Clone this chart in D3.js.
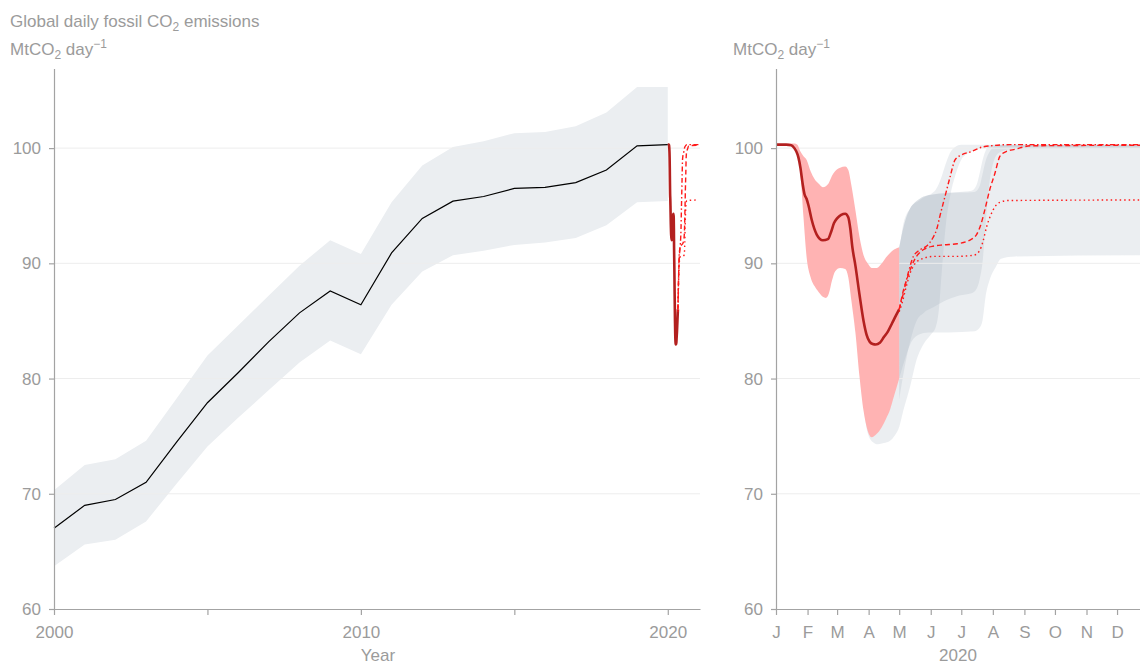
<!DOCTYPE html>
<html>
<head>
<meta charset="utf-8">
<script src="https://cdn.jsdelivr.net/npm/d3@7"></script>
<style>
  html, body { margin: 0; padding: 0; background: #fff; }
  svg { display: block; font-family: "Liberation Sans", Arial, Helvetica, sans-serif; }
</style>
</head>
<body>
<svg id="chart" width="1140" height="664"></svg>
<script>
// ---- Annual emissions 2000-2020 (MtCO2 per day) ----
const years       = [2000, 2001, 2002, 2003, 2004, 2005, 2006, 2007, 2008, 2009, 2010,
                     2011, 2012, 2013, 2014, 2015, 2016, 2017, 2018, 2019, 2020];
const annualMean  = [67.0, 69.0, 69.5, 71.0, 74.5, 77.9, 80.5, 83.2, 85.7, 87.6, 86.4,
                     90.9, 93.9, 95.4, 95.8, 96.5, 96.6, 97.0, 98.1, 100.2, 100.3];
const annualHigh  = [70.3, 72.5, 73.0, 74.6, 78.3, 82.0, 84.6, 87.2, 89.8, 92.0, 90.8,
                     95.3, 98.5, 100.1, 100.6, 101.3, 101.4, 101.9, 103.1, 105.3, 105.3];
const annualLow   = [63.7, 65.6, 66.0, 67.6, 70.9, 74.1, 76.6, 79.0, 81.4, 83.3, 82.1,
                     86.4, 89.3, 90.7, 91.1, 91.6, 91.8, 92.2, 93.3, 95.3, 95.4];

// ---- Daily emissions 2020: [day of year, value] ----
const observed = [[0,100.3],[10,100.3],[15,100.25],[18,100.0],[20,99.7],[22,99.2],[24,98.3],
  [26,97.0],[28,96.0],[30,95.6],[32,95.0],[35,93.8],[40,92.5],[46,92.0],[51,92.1],[54,92.7],
  [57,93.5],[60,93.9],[64,94.2],[68,94.3],[71,94.0],[73,93.0],[75,91.4],[78,89.8],[82,87.3],
  [86,85.0],[89,83.8],[92,83.2],[95,83.0],[98,82.95],[102,83.1],[106,83.6],[110,84.1],
  [114,84.8],[118,85.5],[121,86.0]];

// Uncertainty of the observed daily values: [day, low, high]
const observedRange = [[8,100.3,100.3],[15,100.3,100.4],[18,100.2,100.4],[21,99.7,100.3],
  [24,97.8,99.7],[27,94.0,99.3],[30,90.6,99.0],[34,88.8,98.0],[38,88.0,97.3],[42,87.5,96.9],
  [46,87.1,96.6],[49,87.0,96.7],[52,87.4,97.0],[55,88.5,97.6],[58,89.3,98.0],[63,89.6,98.3],
  [68,89.5,98.4],[71,88.8,98.1],[74,86.8,96.8],[78,84.0,94.6],[82,80.2,92.3],[86,77.2,90.7],
  [90,75.5,90.0],[94,74.9,89.6],[99,75.2,89.6],[104,75.8,90.0],[108,76.5,90.5],
  [112,77.3,90.9],[116,78.5,91.2],[121,80.0,91.4]];

// Recovery scenarios: [day, value]
const scenarioFast = [[121,86.0],[124,87.0],[130,89.2],[135,90.6],[142,91.2],[148,91.5],
  [154,92.2],[158,93.0],[161,94.1],[166,95.8],[171,97.5],[176,99.0],[182,99.4],[192,99.7],
  [203,100.1],[230,100.3],[366,100.3]];
const scenarioMid = [[121,86.0],[125,87.6],[130,89.0],[136,90.3],[145,91.2],[155,91.5],
  [165,91.6],[178,91.7],[190,92.0],[197,92.5],[201,93.3],[205,94.6],[210,96.4],[215,97.8],
  [220,99.3],[226,99.7],[235,99.9],[250,100.2],[366,100.25]];
const scenarioSlow = [[121,85.8],[124,86.6],[128,88.0],[132,89.2],[136,89.9],[141,90.3],
  [155,90.6],[175,90.6],[194,90.7],[200,91.1],[203,91.8],[207,93.2],[211,94.2],[215,94.9],
  [220,95.3],[228,95.45],[366,95.5]];

// Scenario uncertainty ranges: [day, low, high]
const rangeFast = [[86,77.6,90.0],[90,75.3,89.6],[95,74.5,89.4],[100,74.3,89.4],[106,74.4,89.8],
  [112,74.6,90.4],[117,75.1,90.9],[121,75.8,91.4],[125,77.2,93.4],[132,79.4,94.8],
  [138,81.6,95.4],[145,83.0,95.8],[152,83.8,96.0],[157,84.5,96.4],[160,86.0,96.9],
  [163,89.5,97.6],[167,93.5,98.7],[171,95.8,99.6],[176,97.6,100.1],[182,99.0,100.3],
  [190,99.6,100.3],[205,100.0,100.3],[366,100.0,100.3]];
const rangeMid = [[121,78.2,91.4],[126,80.8,93.4],[132,83.3,94.8],[138,85.0,95.4],
  [145,85.7,95.8],[155,86.2,96.0],[165,86.7,96.1],[180,87.2,96.2],[192,87.4,96.3],
  [197,87.8,96.8],[200,88.6,97.8],[203,90.2,99.0],[206,93.5,99.8],[209,96.5,100.2],
  [213,98.6,100.3],[219,99.6,100.3],[230,99.9,100.3],[366,100.0,100.3]];
const rangeSlow = [[121,80.0,91.4],[126,81.5,93.4],[132,83.0,94.8],[140,83.8,95.4],
  [150,84.0,95.9],[170,84.0,96.1],[195,84.1,96.2],[200,84.4,96.7],[203,85.1,97.8],
  [206,87.2,98.9],[210,88.6,99.7],[216,89.7,100.2],[221,90.4,100.3],[235,90.6,100.3],
  [366,90.7,100.3]];

const yTicks = [60, 70, 80, 90, 100];
const yearTicks = [2000, 2005, 2010, 2015, 2020];
const yearTickLabels = ["2000", "", "2010", "", "2020"];

// ---- Styling ----
const FONT_SIZE = 17;
const GREY_TEXT = "#9b9b9b";
const AXIS = "#a3a3a3";
const GRID = "#ededed";
const BAND = "#ebeef1";
const PINK = "#ffb3b3";
const DARK_RED = "#b3201f";
const RED = "#ff1a1a";

const svg = d3.select("#chart");

// ---- Scales ----
const yScale = d3.scaleLinear().domain([60, 106.9]).range([609, 68.6]);
const xYear = d3.scaleLinear().domain([2000, 2021.05]).range([54, 700]);
const t0 = new Date(2020, 0, 1), t1 = new Date(2021, 0, 1);
const xDate = d3.scaleTime().domain([t0, t1]).range([776, 1148.6]);
const dayToDate = d => new Date(2020, 0, 1 + d);
const dayToYear = d => 2020 + d / 366;

function grid(g, x0, x1) {
  g.selectAll("line").data(yTicks.slice(1)).join("line")
    .attr("x1", x0).attr("x2", x1)
    .attr("y1", d => yScale(d)).attr("y2", d => yScale(d))
    .attr("stroke", GRID).attr("stroke-width", 1);
}

function styleAxis(g) {
  g.selectAll("path.domain").attr("stroke", AXIS).attr("stroke-width", 1.2);
  g.selectAll(".tick line").attr("stroke", AXIS).attr("stroke-width", 1.2);
  g.selectAll(".tick text").attr("fill", GREY_TEXT)
    .attr("font-size", FONT_SIZE).attr("font-family", "'Liberation Sans', Arial, sans-serif");
}

function unitLabel(x, y) {
  const t = svg.append("text").attr("x", x).attr("y", y)
    .attr("fill", GREY_TEXT).attr("font-size", FONT_SIZE);
  t.append("tspan").text("MtCO");
  t.append("tspan").attr("font-size", 12).attr("dy", 4).text("2");
  t.append("tspan").attr("dy", -4).text(" day");
  t.append("tspan").attr("font-size", 12).attr("dy", -7).text("\u22121");
}

// ---- Title & units ----
const title = svg.append("text").attr("x", 10).attr("y", 27)
  .attr("fill", GREY_TEXT).attr("font-size", FONT_SIZE);
title.append("tspan").text("Global daily fossil CO");
title.append("tspan").attr("font-size", 12).attr("dy", 4).text("2");
title.append("tspan").attr("dy", -4).text(" emissions");
unitLabel(10, 55);
unitLabel(733, 55);

// ================= Left panel: 2000-2020 =================
const left = svg.append("g");
const annual = years.map((yr, i) => ({ yr, mean: annualMean[i], lo: annualLow[i], hi: annualHigh[i] }));

left.append("path").datum(annual)
  .attr("fill", BAND)
  .attr("d", d3.area().x(d => xYear(d.yr)).y0(d => yScale(d.lo)).y1(d => yScale(d.hi)));

grid(left.append("g"), 54, 700);

left.append("path").datum(annual)
  .attr("fill", "none").attr("stroke", "#000").attr("stroke-width", 1.2)
  .attr("d", d3.line().x(d => xYear(d.yr)).y(d => yScale(d.mean)));

const lineYear = d3.line().curve(d3.curveMonotoneX)
  .x(d => xYear(dayToYear(d[0]))).y(d => yScale(d[1]));

left.append("path").datum(observed)
  .attr("fill", "none").attr("stroke", DARK_RED).attr("stroke-width", 2.6)
  .attr("d", lineYear);

const scenarioStyles = [
  { data: scenarioFast, dash: "5,2.5,1.5,2.5" },
  { data: scenarioMid,  dash: "5,3" },
  { data: scenarioSlow, dash: "1.5,3" }
];
scenarioStyles.forEach(s => {
  left.append("path").datum(s.data)
    .attr("fill", "none").attr("stroke", RED).attr("stroke-width", 1.4)
    .attr("stroke-dasharray", s.dash).attr("d", lineYear);
});

// axes
left.append("g").attr("transform", "translate(54,0)")
  .call(d3.axisLeft(yScale).tickValues(yTicks).tickSize(5).tickSizeOuter(0).tickPadding(8))
  .call(styleAxis);
left.append("g").attr("transform", "translate(0,609)")
  .call(d3.axisBottom(xYear).tickValues(yearTicks).tickFormat((d, i) => yearTickLabels[i])
    .tickSize(6).tickSizeOuter(0).tickPadding(11))
  .call(styleAxis);
left.append("text").attr("x", 378).attr("y", 661).attr("text-anchor", "middle")
  .attr("fill", GREY_TEXT).attr("font-size", FONT_SIZE).text("Year");

// ================= Right panel: daily 2020 =================
const right = svg.append("g");

const areaDay = d3.area().curve(d3.curveMonotoneX)
  .x(d => xDate(dayToDate(d[0]))).y0(d => yScale(d[1])).y1(d => yScale(d[2]));
const lineDay = d3.line().curve(d3.curveMonotoneX)
  .x(d => xDate(dayToDate(d[0]))).y(d => yScale(d[1]));

[rangeFast, rangeMid, rangeSlow].forEach(r => {
  right.append("path").datum(r)
    .attr("fill", "rgb(155,170,185)").attr("fill-opacity", 0.2)
    .attr("d", areaDay);
});

grid(right.append("g"), 776, 1140);

right.append("path").datum(observedRange)
  .attr("fill", PINK).attr("d", areaDay);

right.append("path").datum(observed)
  .attr("fill", "none").attr("stroke", DARK_RED).attr("stroke-width", 2.6)
  .attr("stroke-linejoin", "round").attr("d", lineDay);

scenarioStyles.forEach(s => {
  right.append("path").datum(s.data)
    .attr("fill", "none").attr("stroke", RED).attr("stroke-width", 1.4)
    .attr("stroke-dasharray", s.dash).attr("d", lineDay);
});

right.append("g").attr("transform", "translate(776,0)")
  .call(d3.axisLeft(yScale).tickValues(yTicks).tickSize(5).tickSizeOuter(0).tickPadding(8))
  .call(styleAxis);
const fmtMonth = d3.timeFormat("%b");
const monthTicks = d3.timeMonth.range(t0, t1);   // Jan..Dec 2020
right.append("g").attr("transform", "translate(0,609)")
  .call(d3.axisBottom(xDate).tickValues(monthTicks)
    .tickFormat(d => fmtMonth(d).charAt(0)).tickSize(6).tickSizeOuter(0).tickPadding(11))
  .call(styleAxis);
right.append("text").attr("x", 958).attr("y", 661).attr("text-anchor", "middle")
  .attr("fill", GREY_TEXT).attr("font-size", FONT_SIZE).text("2020");
</script>
</body>
</html>
